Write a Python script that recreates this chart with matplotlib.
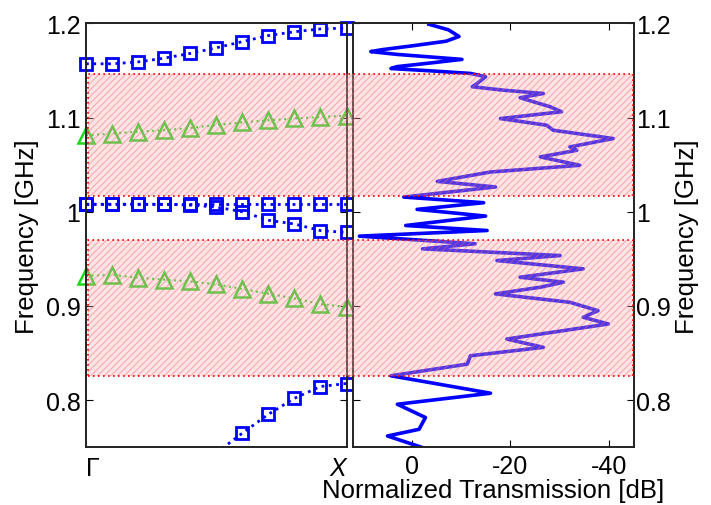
import numpy as np
import matplotlib.pyplot as plt
from matplotlib.patches import Rectangle
from matplotlib.transforms import blended_transform_factory

plt.rcParams['font.family'] = ['Liberation Sans', 'DejaVu Sans']
plt.rcParams['font.size'] = 18
plt.rcParams['hatch.linewidth'] = 0.8

# --- band diagram, Gamma -> X (11 points) ---
kpts = [0.0, 0.1, 0.2, 0.3, 0.4, 0.5, 0.6, 0.7, 0.8, 0.9, 1.0]
band_top = [1.157, 1.157, 1.159, 1.163, 1.168, 1.174, 1.1805, 1.187, 1.191, 1.194, 1.195]
band_flat = [1.008, 1.008, 1.008, 1.008, 1.008, 1.008, 1.008, 1.008, 1.008, 1.008, 1.008]
band_down = [1.008, 1.008, 1.008, 1.008, 1.007, 1.005, 1.000, 0.991, 0.987, 0.980, 0.978]
green_up = [1.081, 1.083, 1.085, 1.0865, 1.089, 1.092, 1.095, 1.097, 1.099, 1.1005, 1.102]
green_low = [0.932, 0.933, 0.930, 0.928, 0.926, 0.923, 0.918, 0.913, 0.908, 0.902, 0.899]
# lowest branch only enters the window from k=0.5 on
k_bottom = [0.5, 0.6, 0.7, 0.8, 0.9, 1.0]
band_bottom = [0.744, 0.765, 0.785, 0.802, 0.8145, 0.8177]

# --- measured transmission ---
trans_freq = [1.199, 1.193, 1.186, 1.181, 1.176, 1.172, 1.170, 1.167, 1.1617, 1.158,
              1.154, 1.152, 1.1495, 1.1468, 1.1433, 1.1362, 1.1327, 1.1290, 1.1255, 1.1210,
              1.1114, 1.1061, 1.0989, 1.0918, 1.0865, 1.0777, 1.0688, 1.0652, 1.0582, 1.0493,
              1.0422, 1.0322, 1.0263, 1.0156, 1.0096, 1.0025, 0.9954, 0.9854, 0.9801, 0.9741,
              0.9660, 0.9606, 0.9535, 0.9482, 0.9394, 0.9305, 0.9252, 0.9199, 0.9128, 0.9039,
              0.8950, 0.8880, 0.8809, 0.8649, 0.8561, 0.8471, 0.8383, 0.8259, 0.8074, 0.7957,
              0.7816, 0.7691, 0.7620, 0.7497]
trans_db = [-3.5, -7.5, -9.6, -7.0, 0.0, 6.0, 8.3, 3.0, -10.2, -4.0,
            3.0, 4.2, -4.0, -11.9, -15.0, -13.3, -12.3, -18.6, -26.7, -22.0,
            -28.1, -30.4, -18.0, -27.4, -28.7, -40.9, -32.1, -33.5, -26.1, -34.1,
            -16.0, -5.2, -17.0, 1.6, -14.6, -1.1, -15.0, 1.2, -15.3, 10.6,
            -12.9, -2.2, -30.1, -17.3, -34.8, -22.0, -30.8, -26.1, -17.0, -32.1,
            -37.8, -34.8, -39.9, -19.3, -26.7, -11.9, -11.3, 4.2, -16.0, 2.9,
            -2.8, -1.5, 4.9, -2.2]

# band gaps
gap_lo = [0.826, 1.017]
gap_hi = [0.9705, 1.146]

freq_ticks = [0.8, 0.9, 1.0, 1.1, 1.2]
freq_labels = ['0.8', '0.9', '1', '1.1', '1.2']

blue = (0, 0, 1)
green = (0.1, 0.85, 0.1)

fig = plt.figure(figsize=(7.11, 5.06), dpi=100)
bot = (506 - 448.3) / 506
hgt = (448.3 - 24.3) / 506
ax1 = fig.add_axes([86 / 711, bot, 260.5 / 711, hgt])
ax2 = fig.add_axes([352.5 / 711, bot, 281 / 711, hgt])

sq = dict(ls=':', lw=2, marker='s', ms=9, mew=2, mfc='none', color=blue, clip_on=False)
tri = dict(ls=':', lw=1.5, marker='^', ms=11, mew=1.8, mfc='none', color=green, clip_on=False)
ax1.plot(kpts, band_top, **sq)
ax1.plot(kpts, band_flat, **sq)
ax1.plot(kpts, band_down, **sq)
ax1.plot(kpts, green_up, **tri)
ax1.plot(kpts, green_low, **tri)
ax1.plot(k_bottom, band_bottom, ls=':', lw=2, color=blue)
ax1.plot(k_bottom[1:], band_bottom[1:], ls='none', marker='s', ms=9, mew=2,
         mfc='none', color=blue, clip_on=False)

ax1.set_xlim(0, 1)
ax1.set_ylim(0.75, 1.2)
ax1.set_yticks(freq_ticks)
ax1.set_yticklabels(freq_labels)
ax1.set_xticks([0, 1])
lbls = ax1.set_xticklabels(['Γ', 'X'])
lbls[0].set_ha('left')
lbls[1].set_ha('right')
lbls[1].set_fontstyle('italic')
ax1.tick_params(axis='x', length=0, pad=6)
ax1.tick_params(axis='y', direction='in', left=True, right=True, length=5, pad=4)
ax1.set_ylabel('Frequency [GHz]', fontsize=18.5, labelpad=5)

ax2.plot(trans_db, trans_freq, color=blue, lw=2.6, solid_joinstyle='round')
ax2.set_xlim(12, -45)
ax2.set_ylim(0.75, 1.2)
ax2.set_xticks([0, -20, -40])
ax2.set_xticklabels(['0', '-20', '-40'])
ax2.set_yticks(freq_ticks)
ax2.set_yticklabels(freq_labels)
ax2.yaxis.tick_right()
ax2.yaxis.set_label_position('right')
ax2.tick_params(axis='x', direction='in', top=True, bottom=True, length=5, pad=5)
ax2.tick_params(axis='y', direction='in', left=True, right=True, length=5, pad=2)
ax2.set_ylabel('Frequency [GHz]', fontsize=18.5, labelpad=3)
ax2.set_xlabel('Normalized Transmission [dB]', fontsize=18.5, labelpad=0)

for ax in (ax1, ax2):
    for s in ax.spines.values():
        s.set_linewidth(1.4)
        s.set_color('#222222')

# shaded band gaps across both panels
tr = blended_transform_factory(fig.transFigure, ax1.transData)
x0 = 88 / 711
w = (633 - 88) / 711
for lo, hi in zip(gap_lo, gap_hi):
    fig.add_artist(Rectangle((x0, lo), w, hi - lo, transform=tr,
                             facecolor=(1, 0.68, 0.7, 0.32),
                             edgecolor=(0.92, 0.4, 0.45, 0.45),
                             hatch='/////', lw=0, zorder=5))
    fig.add_artist(Rectangle((x0, lo), w, hi - lo, transform=tr, fill=False,
                             edgecolor='red', lw=1.2, ls=(0, (1, 2)), zorder=6))

fig.savefig('out.png', dpi=100)
